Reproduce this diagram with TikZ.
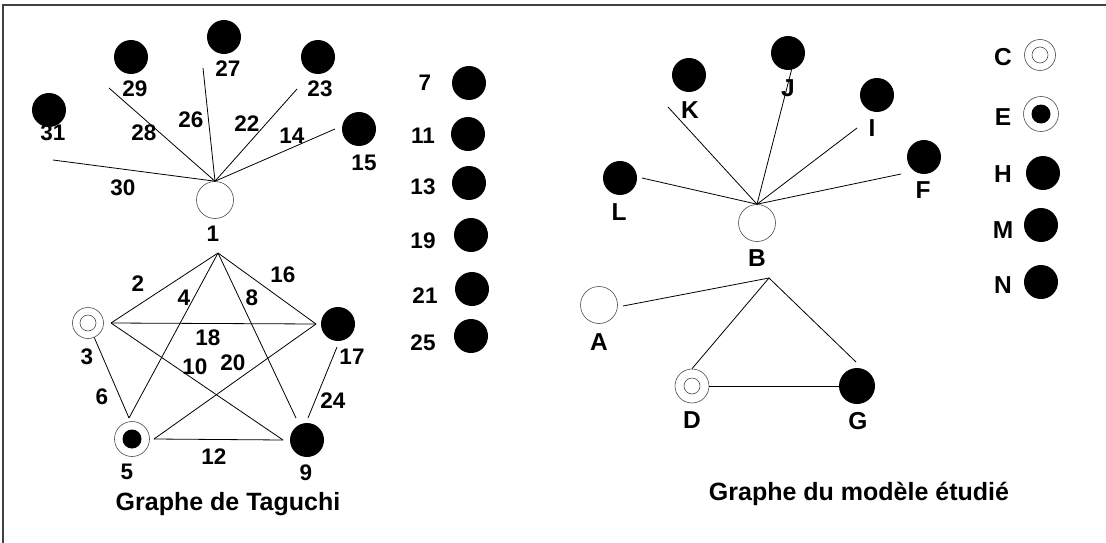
\documentclass[tikz,border=0pt]{standalone}
\usepackage{fontspec}
\setmainfont{Liberation Sans}
\usetikzlibrary{positioning, calc}

\begin{document}
\begin{tikzpicture}[x=1pt, y=-1pt, line width=0.8pt,
    plein/.style={circle, fill=black, minimum size=34, inner sep=0pt},
    vide/.style={circle, draw=black!70, line width=0.6pt, minimum size=37, inner sep=0pt},
    anneau/.style={circle, draw=black!70, line width=0.6pt, minimum size=31, inner sep=0pt,
        path picture={\draw[black!70, line width=0.6pt] (path picture bounding box.center) circle (8pt);}},
    cible/.style={circle, draw=black!70, line width=0.6pt, minimum size=35, inner sep=0pt,
        path picture={\fill (path picture bounding box.center) circle (9.5pt);}},
    num/.style={font=\bfseries\fontsize{22.5}{24}\selectfont, inner sep=0pt},
    lettre/.style={font=\bfseries\fontsize{24.5}{27}\selectfont, inner sep=0pt},
    titre/.style={font=\bfseries\fontsize{25}{28}\selectfont, inner sep=0pt}]
    \useasboundingbox (0,0) rectangle (1106,543);
    % Frame
    \draw[black!75, line width=1.5pt] (3,543) -- (3,5) -- (1106,5);

    % Taguchi graph: fan around 1
    \node[vide] (n1) at (215,200) {};
    \node[num] (t1) at (213,234) {1};
    \node[plein] (n31) at (49,110) {};
    \node[num] (t31) at (53,133) {31};
    \node[plein] (n29) at (131,57) {};
    \node[num] (t29) at (135,89) {29};
    \node[plein] (n27) at (224,37) {};
    \node[num] (t27) at (228,69) {27};
    \node[plein] (n23) at (318,57) {};
    \node[num] (t23) at (320,89) {23};
    \node[plein] (n15) at (359,129) {};
    \node[num] (t15) at (364,163) {15};
    \coordinate (e31) at (53,160);
    \coordinate (e29) at (109,88);
    \coordinate (e27) at (203,68);
    \coordinate (e23) at (297,89);
    \coordinate (e15) at (335,129);
    \draw (n1.north) -- (e31);
    \draw (n1.north) -- (e29);
    \draw (n1.north) -- (e27);
    \draw (n1.north) -- (e23);
    \draw (n1.north) -- (e15);
    \node[num] (l30) at (123,188) {30};
    \node[num] (l28) at (144,133) {28};
    \node[num] (l26) at (191,120) {26};
    \node[num] (l22) at (247,124) {22};
    \node[num] (l14) at (292,136) {14};

    % Taguchi graph: pentagon
    \coordinate (s1) at (218,253);
    \node[anneau] (n3) at (88,323) {};
    \node[num] (t3) at (87,357) {3};
    \node[plein] (n17) at (338,324) {};
    \node[num] (t17) at (352,357) {17};
    \node[cible] (n5) at (132,439) {};
    \node[num] (t5) at (127,472) {5};
    \node[plein] (n9) at (307,440) {};
    \node[num] (t9) at (306,473) {9};
    \coordinate (j3) at (111,323);
    \coordinate (j17) at (316,324);
    \coordinate (j17b) at (337,347);
    \coordinate (j5a) at (129,418);
    \coordinate (j5b) at (154,439);
    \coordinate (j9a) at (296,418);
    \coordinate (j9b) at (283,440);
    \coordinate (j9c) at (308,418);
    \draw (s1) -- (j3);
    \draw (s1) -- (j17);
    \draw (s1) -- (j5a);
    \draw (s1) -- (j9a);
    \draw (j3) -- (j17);
    \draw (j3) -- (j9b);
    \draw (j5b) -- (j17);
    \draw (j5b) -- (j9b);
    \draw (n3) -- (j5a);
    \draw (j17b) -- (j9c);
    \node[num] (l2) at (138,284) {2};
    \node[num] (l4) at (184,298) {4};
    \node[num] (l8) at (252,298) {8};
    \node[num] (l16) at (283,275) {16};
    \node[num] (l18) at (208,338) {18};
    \node[num] (l10) at (195,367) {10};
    \node[num] (l20) at (233,363) {20};
    \node[num] (l6) at (102,397) {6};
    \node[num] (l24) at (333,401) {24};
    \node[num] (l12) at (214,457) {12};
    \node[titre] (taguchi) at (228,504) {Graphe de Taguchi};

    % Free columns
    \foreach \n/\x/\y/\lx/\ly in {7/469/83/425/83, 11/468/134/423/136, 13/469/183/423/187,
        19/471/235/423/241, 21/472/289/425/296, 25/471/336/423/343} {
      \node[plein] (n\n) at (\x,\y) {};
      \node[num] (t\n) at (\lx,\ly) {\n};
    }

    % Studied model graph
    \node[vide] (nB) at (757,223) {};
    \node[lettre] (tB) at (757,258) {B};
    \node[plein] (nK) at (689,75) {};
    \node[lettre] (tK) at (690,110) {K};
    \node[plein] (nJ) at (788,53) {};
    \node[plein] (nI) at (877,95) {};
    \node[lettre] (tI) at (872,128) {I};
    \node[plein] (nF) at (924,157) {};
    \node[lettre] (tF) at (923,190) {F};
    \node[plein] (nL) at (620,178) {};
    \node[lettre] (tL) at (619,212) {L};
    \coordinate (eK) at (668,107);
    \coordinate (eJ) at (792,68);
    \coordinate (eI) at (857,128);
    \coordinate (eF) at (901,174);
    \coordinate (eL) at (642,178);
    \draw (nB.north) -- (eK);
    \draw (nB.north) -- (eJ);
    \draw (nB.north) -- (eI);
    \draw (nB.north) -- (eF);
    \draw (nB.north) -- (eL);
    \node[lettre] (tJ) at (788,88) {J};

    \coordinate (sB) at (769,278);
    \node[vide] (nA) at (599,305) {};
    \node[lettre] (tA) at (599,342) {A};
    \node[anneau, minimum size=34] (nD) at (692,386) {};
    \node[lettre] (tD) at (692,420) {D};
    \node[plein, minimum size=36] (nG) at (857,386) {};
    \node[lettre] (tG) at (858,421) {G};
    \coordinate (eA) at (623,306);
    \coordinate (jG) at (856,362);
    \draw (sB) -- (eA);
    \draw (sB) -- (nD.north);
    \draw (sB) -- (jG);
    \draw (nD.east) -- (nG.west);
    \node[titre] (modele) at (859,494) {Graphe du modèle étudié};

    % Legend
    \node[lettre] (kC) at (1003,57) {C};
    \node[anneau] (lC) at (1040,55) {};
    \node[lettre] (kE) at (1003,117) {E};
    \node[cible] (lE) at (1041,114) {};
    \node[lettre] (kH) at (1003,174) {H};
    \node[plein] (lH) at (1043,173) {};
    \node[lettre] (kM) at (1003,230) {M};
    \node[plein] (lM) at (1041,225) {};
    \node[lettre] (kN) at (1003,285) {N};
    \node[plein] (lN) at (1041,282) {};
\end{tikzpicture}
\end{document}
